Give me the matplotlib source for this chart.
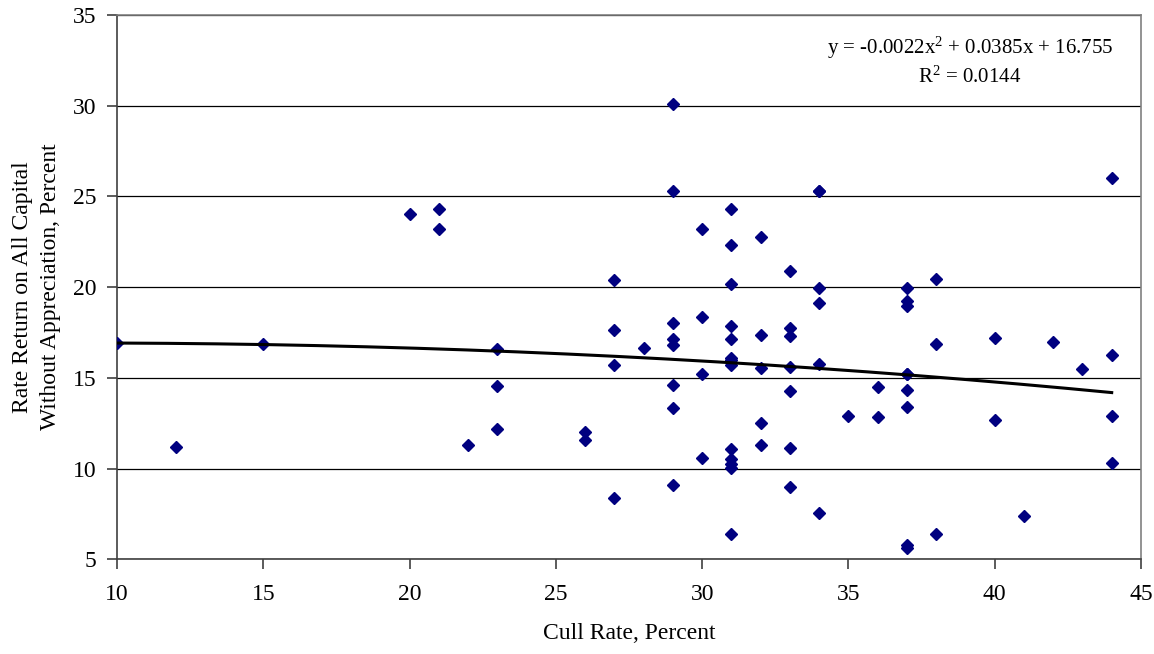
import numpy as np
import matplotlib
matplotlib.use("Agg")
import matplotlib.pyplot as plt

plt.rcParams["font.family"] = ["Liberation Serif", "DejaVu Serif"]
plt.rcParams["mathtext.fontset"] = "custom"
plt.rcParams["mathtext.rm"] = "Liberation Serif"
plt.rcParams["mathtext.it"] = "Liberation Serif"

# cull rate (percent) and rate of return (percent)
cull_rate = [
    10, 12, 15, 20, 21, 21, 22, 23, 23, 23,
    26, 26, 27, 27, 27, 27, 28,
    29, 29, 29, 29, 29, 29, 29, 29,
    30, 30, 30, 30,
    31, 31, 31, 31, 31, 31, 31, 31, 31, 31, 31, 31, 31,
    32, 32, 32, 32, 32,
    33, 33, 33, 33, 33, 33, 33,
    34, 34, 34, 34, 34, 34,
    35, 36, 36,
    37, 37, 37, 37, 37, 37, 37, 37, 37,
    38, 38, 38, 40, 40, 41, 42, 43, 44, 44, 44, 44,
]
return_rate = [
    16.95, 11.19, 16.85, 24.06, 24.30, 23.21, 11.28, 16.58, 14.54, 12.20,
    12.02, 11.60, 20.42, 17.63, 15.73, 8.38, 16.67,
    30.09, 25.29, 18.05, 17.17, 16.80, 14.61, 13.34, 9.11,
    23.18, 18.33, 15.20, 10.58,
    24.30, 22.31, 20.18, 17.86, 17.13, 16.12, 15.98, 15.69, 11.06, 10.51, 10.27, 10.05, 6.41,
    22.74, 17.35, 15.57, 12.53, 11.32,
    20.90, 17.75, 17.31, 15.60, 14.26, 11.13, 8.98,
    25.31, 19.98, 19.15, 15.75, 7.57, 25.30,
    12.90, 14.50, 12.84,
    19.98, 19.24, 18.95, 15.20, 14.32, 13.40, 5.81, 5.65, 15.20,
    20.44, 16.85, 6.41, 17.22, 12.66, 7.38, 16.98, 15.51, 26.03, 16.28, 12.88, 10.31,
]

# polynomial trendline shown on the chart
coef = [-0.0022, 0.0385, 16.755]
eq_text = "y = -0.0022x$^{2}$ + 0.0385x + 16.755"
r2_text = "R$^{2}$ = 0.0144"

fig = plt.figure(figsize=(11.54, 6.54), dpi=100)
ax = fig.add_axes([0.1014, 0.1448, 0.8873, 0.8322])

ax.plot(cull_rate, return_rate, linestyle="none", marker="D", markersize=6,
        color="#000080", zorder=3)

xt = np.linspace(min(cull_rate), max(cull_rate), 200)
ax.plot(xt, np.polyval(coef, xt), color="black", linewidth=2.2, zorder=4)

ax.set_xlim(10, 45)
ax.set_ylim(5, 35)
ax.set_xticks(range(10, 46, 5))
ax.set_yticks(range(5, 36, 5))
ax.yaxis.grid(True, color="black", linewidth=0.9)
ax.set_axisbelow(True)

for side in ["top", "right"]:
    ax.spines[side].set_color("#808080")
    ax.spines[side].set_linewidth(1.2)
for side in ["left", "bottom"]:
    ax.spines[side].set_color("#404040")
    ax.spines[side].set_linewidth(1.2)

ax.tick_params(axis="both", direction="out", length=7, width=1.2,
               color="#404040", labelsize=17)
ax.tick_params(axis="x", pad=11)
ax.tick_params(axis="y", pad=8)

ax.set_xlabel("Cull Rate, Percent", fontsize=17, labelpad=13)
ax.set_ylabel("Rate Return on All Capital\nWithout Appreciation, Percent",
              fontsize=17, labelpad=8, linespacing=1.45)

ax.text(0.833, 33.2, eq_text, transform=ax.get_yaxis_transform(),
        ha="center", va="center", fontsize=15)
ax.text(0.833, 31.55, r2_text, transform=ax.get_yaxis_transform(),
        ha="center", va="center", fontsize=15)

fig.savefig("out.png", dpi=100)
